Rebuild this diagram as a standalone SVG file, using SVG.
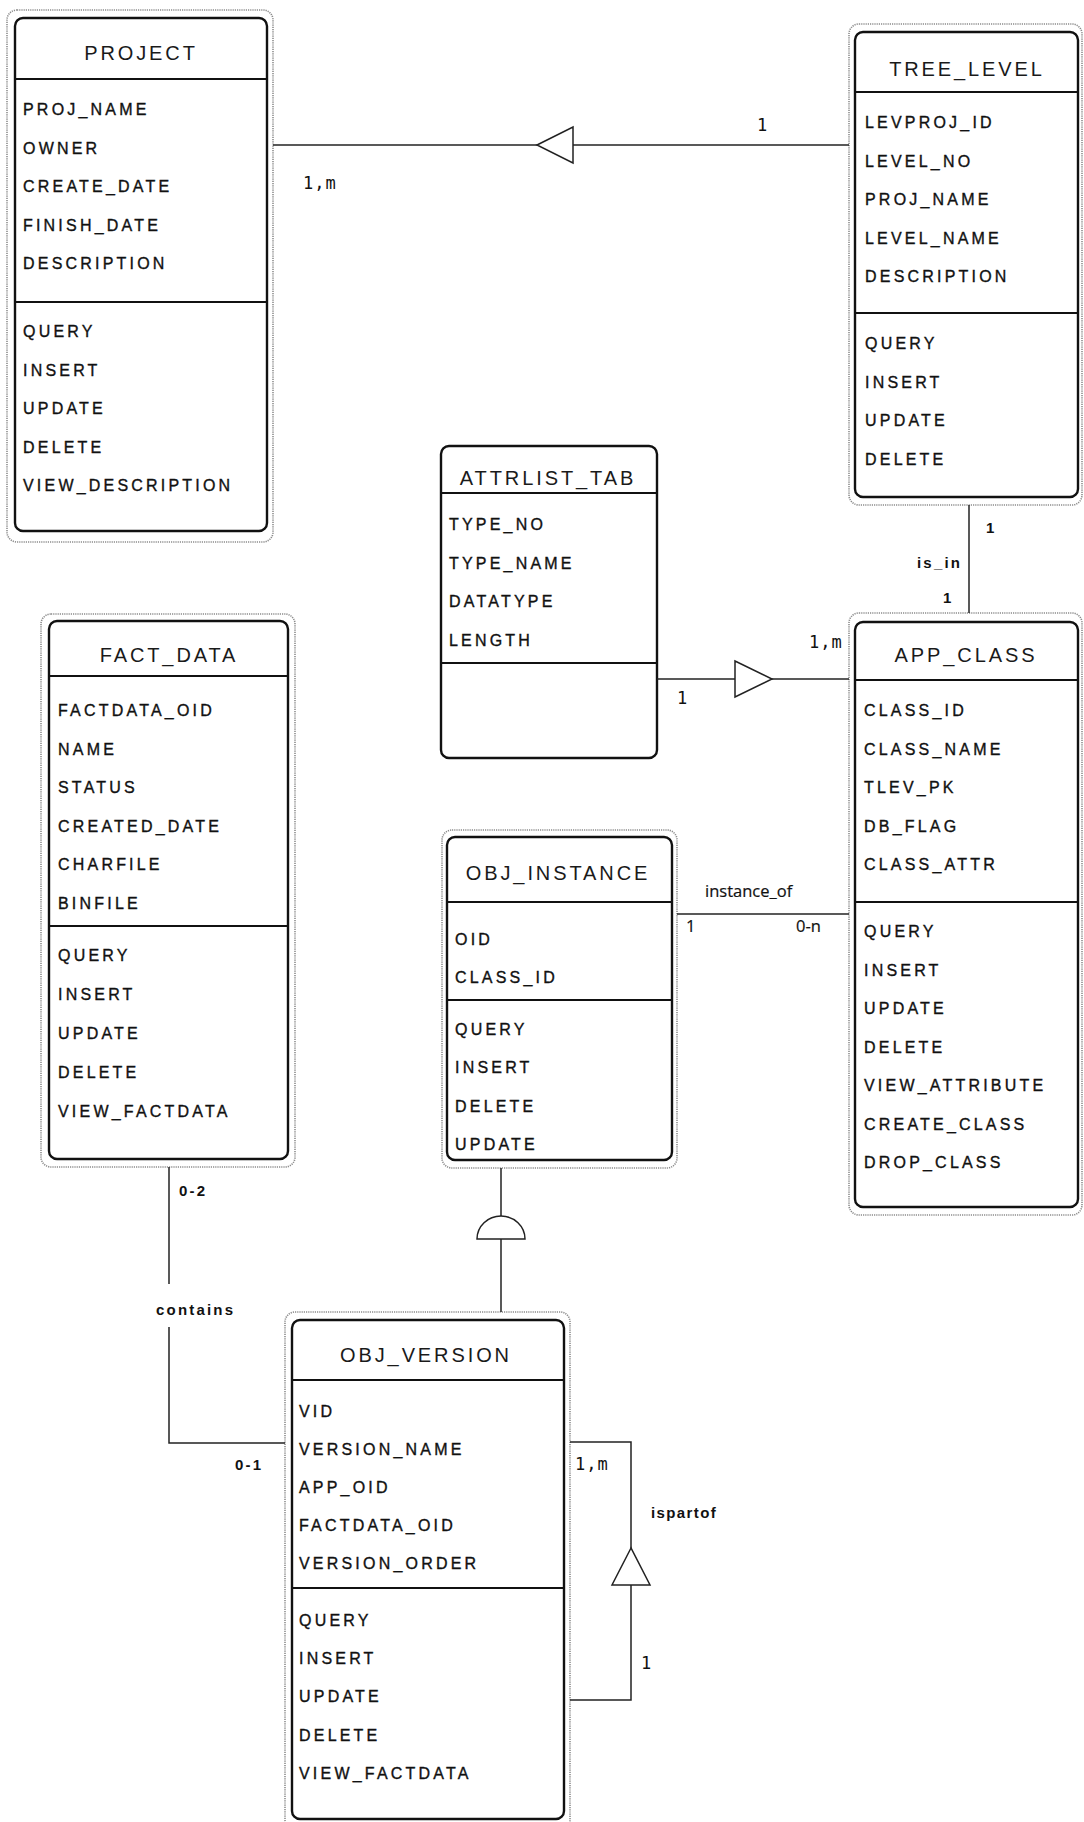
<svg xmlns="http://www.w3.org/2000/svg" width="1084" height="1822" viewBox="0 0 1084 1822">
  <style>
    .halo { fill: none; stroke: #8c8c8c; stroke-width: 1.6; stroke-dasharray: 1.2 1; }
    .box { fill: #fff; stroke: #111; stroke-width: 2.4; }
    .sep { stroke: #111; stroke-width: 2; }
    .title { font-family: "Liberation Sans", Arial, sans-serif; font-size: 20px; letter-spacing: 2.9px; fill: #1a1a1a; text-anchor: middle; }
    .row { font-family: "Liberation Sans", Arial, sans-serif; font-size: 16px; letter-spacing: 3.2px; fill: #111; stroke: #111; stroke-width: 0.35; }
    .link { fill: none; stroke: #222; stroke-width: 1.5; }
    .tri { fill: #fff; stroke: #222; stroke-width: 1.5; }
    .lbl { font-family: "Liberation Sans", Arial, sans-serif; font-size: 15px; font-weight: bold; letter-spacing: 2.2px; fill: #111; }
    .mono { font-family: "DejaVu Sans Mono", "Liberation Mono", monospace; font-size: 17px; letter-spacing: 1px; fill: #111; }
    .soft { font-family: "Open Sans", "Noto Sans", sans-serif; font-size: 16.5px; fill: #111; stroke: #111; stroke-width: 0.2; }
  </style>
  <rect width="1084" height="1822" fill="#fff"/>

  <!-- PROJECT -->
  <g id="project">
    <rect class="halo" x="7" y="10" width="266" height="532" rx="10"/>
    <rect class="box" x="15" y="18" width="252" height="513" rx="8"/>
    <line class="sep" x1="15" y1="79" x2="267" y2="79"/>
    <line class="sep" x1="15" y1="302" x2="267" y2="302"/>
    <text class="title" x="141" y="60">PROJECT</text>
    <text class="row" x="23" y="115">PROJ_NAME</text>
    <text class="row" x="23" y="153.6">OWNER</text>
    <text class="row" x="23" y="192.2">CREATE_DATE</text>
    <text class="row" x="23" y="230.8">FINISH_DATE</text>
    <text class="row" x="23" y="269.4">DESCRIPTION</text>
    <text class="row" x="23" y="337">QUERY</text>
    <text class="row" x="23" y="375.6">INSERT</text>
    <text class="row" x="23" y="414.2">UPDATE</text>
    <text class="row" x="23" y="452.8">DELETE</text>
    <text class="row" x="23" y="491.4">VIEW_DESCRIPTION</text>
  </g>

  <!-- TREE_LEVEL -->
  <g id="tree_level">
    <rect class="halo" x="849" y="24" width="233" height="481" rx="10"/>
    <rect class="box" x="855" y="32" width="223" height="465" rx="8"/>
    <line class="sep" x1="855" y1="92" x2="1078" y2="92"/>
    <line class="sep" x1="855" y1="313" x2="1078" y2="313"/>
    <text class="title" x="967" y="76">TREE_LEVEL</text>
    <text class="row" x="865" y="128">LEVPROJ_ID</text>
    <text class="row" x="865" y="166.6">LEVEL_NO</text>
    <text class="row" x="865" y="205.2">PROJ_NAME</text>
    <text class="row" x="865" y="243.8">LEVEL_NAME</text>
    <text class="row" x="865" y="282.4">DESCRIPTION</text>
    <text class="row" x="865" y="349">QUERY</text>
    <text class="row" x="865" y="387.6">INSERT</text>
    <text class="row" x="865" y="426.2">UPDATE</text>
    <text class="row" x="865" y="464.8">DELETE</text>
  </g>

  <!-- ATTRLIST_TAB -->
  <g id="attrlist_tab">
    <rect class="box" x="441" y="446" width="216" height="312" rx="8"/>
    <line class="sep" x1="441" y1="493" x2="657" y2="493"/>
    <line class="sep" x1="441" y1="663" x2="657" y2="663"/>
    <text class="title" x="548" y="485">ATTRLIST_TAB</text>
    <text class="row" x="449" y="530">TYPE_NO</text>
    <text class="row" x="449" y="568.5">TYPE_NAME</text>
    <text class="row" x="449" y="607">DATATYPE</text>
    <text class="row" x="449" y="645.5">LENGTH</text>
  </g>

  <!-- FACT_DATA -->
  <g id="fact_data">
    <rect class="halo" x="41" y="614" width="254" height="553" rx="10"/>
    <rect class="box" x="49" y="621" width="239" height="538" rx="8"/>
    <line class="sep" x1="49" y1="676" x2="288" y2="676"/>
    <line class="sep" x1="49" y1="926" x2="288" y2="926"/>
    <text class="title" x="169" y="662">FACT_DATA</text>
    <text class="row" x="58" y="716">FACTDATA_OID</text>
    <text class="row" x="58" y="754.5">NAME</text>
    <text class="row" x="58" y="793">STATUS</text>
    <text class="row" x="58" y="831.5">CREATED_DATE</text>
    <text class="row" x="58" y="870">CHARFILE</text>
    <text class="row" x="58" y="908.5">BINFILE</text>
    <text class="row" x="58" y="961">QUERY</text>
    <text class="row" x="58" y="1000">INSERT</text>
    <text class="row" x="58" y="1039">UPDATE</text>
    <text class="row" x="58" y="1078">DELETE</text>
    <text class="row" x="58" y="1117">VIEW_FACTDATA</text>
  </g>

  <!-- APP_CLASS -->
  <g id="app_class">
    <rect class="halo" x="849" y="613" width="233" height="602" rx="10"/>
    <rect class="box" x="855" y="622" width="223" height="585" rx="8"/>
    <line class="sep" x1="855" y1="680" x2="1078" y2="680"/>
    <line class="sep" x1="855" y1="902" x2="1078" y2="902"/>
    <text class="title" x="966" y="662">APP_CLASS</text>
    <text class="row" x="864" y="716">CLASS_ID</text>
    <text class="row" x="864" y="754.5">CLASS_NAME</text>
    <text class="row" x="864" y="793">TLEV_PK</text>
    <text class="row" x="864" y="831.5">DB_FLAG</text>
    <text class="row" x="864" y="870">CLASS_ATTR</text>
    <text class="row" x="864" y="937">QUERY</text>
    <text class="row" x="864" y="975.5">INSERT</text>
    <text class="row" x="864" y="1014">UPDATE</text>
    <text class="row" x="864" y="1052.5">DELETE</text>
    <text class="row" x="864" y="1091">VIEW_ATTRIBUTE</text>
    <text class="row" x="864" y="1129.5">CREATE_CLASS</text>
    <text class="row" x="864" y="1168">DROP_CLASS</text>
  </g>

  <!-- OBJ_INSTANCE -->
  <g id="obj_instance">
    <rect class="halo" x="442" y="830" width="235" height="338" rx="10"/>
    <rect class="box" x="447" y="837" width="225" height="323" rx="8"/>
    <line class="sep" x1="447" y1="902" x2="672" y2="902"/>
    <line class="sep" x1="447" y1="1000" x2="672" y2="1000"/>
    <text class="title" x="558" y="880">OBJ_INSTANCE</text>
    <text class="row" x="455" y="945">OID</text>
    <text class="row" x="455" y="983">CLASS_ID</text>
    <text class="row" x="455" y="1035">QUERY</text>
    <text class="row" x="455" y="1073">INSERT</text>
    <text class="row" x="455" y="1112">DELETE</text>
    <text class="row" x="455" y="1150">UPDATE</text>
  </g>

  <!-- OBJ_VERSION -->
  <g id="obj_version">
    <rect class="halo" x="285" y="1312" width="285" height="518" rx="10"/>
    <rect class="box" x="292" y="1320" width="272" height="499" rx="8"/>
    <line class="sep" x1="292" y1="1380" x2="564" y2="1380"/>
    <line class="sep" x1="292" y1="1588" x2="564" y2="1588"/>
    <text class="title" x="426" y="1362">OBJ_VERSION</text>
    <text class="row" x="299" y="1417">VID</text>
    <text class="row" x="299" y="1455">VERSION_NAME</text>
    <text class="row" x="299" y="1493">APP_OID</text>
    <text class="row" x="299" y="1531">FACTDATA_OID</text>
    <text class="row" x="299" y="1569">VERSION_ORDER</text>
    <text class="row" x="299" y="1626">QUERY</text>
    <text class="row" x="299" y="1664">INSERT</text>
    <text class="row" x="299" y="1702">UPDATE</text>
    <text class="row" x="299" y="1741">DELETE</text>
    <text class="row" x="299" y="1779">VIEW_FACTDATA</text>
  </g>

  <!-- relationships -->
  <g id="connectors">
    <!-- TREE_LEVEL to PROJECT -->
    <line class="link" x1="273" y1="145" x2="849" y2="145"/>
    <polygon class="tri" points="537,145 573,127 573,163"/>
    <text class="mono" x="757" y="131">1</text>
    <text class="mono" x="303" y="189">1,m</text>

    <!-- is_in -->
    <line class="link" x1="969" y1="505" x2="969" y2="613"/>
    <text class="lbl" x="986" y="533">1</text>
    <text class="lbl" x="917" y="568">is_in</text>
    <text class="lbl" x="943" y="603">1</text>

    <!-- ATTRLIST_TAB to APP_CLASS -->
    <line class="link" x1="657" y1="679" x2="849" y2="679"/>
    <polygon class="tri" points="735,661 772,679 735,697"/>
    <text class="mono" x="677" y="704">1</text>
    <text class="mono" x="809" y="648">1,m</text>

    <!-- instance_of -->
    <line class="link" x1="677" y1="914" x2="849" y2="914"/>
    <text class="soft" x="705" y="897">instance_of</text>
    <text class="soft" x="686" y="932">1</text>
    <text class="soft" x="796" y="932">0-n</text>

    <!-- OBJ_VERSION specialises OBJ_INSTANCE -->
    <line class="link" x1="501" y1="1168" x2="501" y2="1216"/>
    <path class="tri" d="M477,1239 A24,23 0 0 1 525,1239 Z"/>
    <line class="link" x1="501" y1="1239" x2="501" y2="1312"/>

    <!-- contains -->
    <polyline class="link" points="169,1167 169,1284"/>
    <polyline class="link" points="169,1327 169,1443 285,1443"/>
    <text class="lbl" x="179" y="1196">0-2</text>
    <text class="lbl" x="156" y="1315">contains</text>
    <text class="lbl" x="235" y="1470">0-1</text>

    <!-- ispartof (self) -->
    <polyline class="link" points="570,1442 631,1442 631,1548"/>
    <polygon class="tri" points="631,1548 612,1585 650,1585"/>
    <polyline class="link" points="631,1585 631,1700 570,1700"/>
    <text class="mono" x="575" y="1470">1,m</text>
    <text class="lbl" x="651" y="1518" style="letter-spacing:1.4px">ispartof</text>
    <text class="mono" x="641" y="1669">1</text>
  </g>
</svg>
